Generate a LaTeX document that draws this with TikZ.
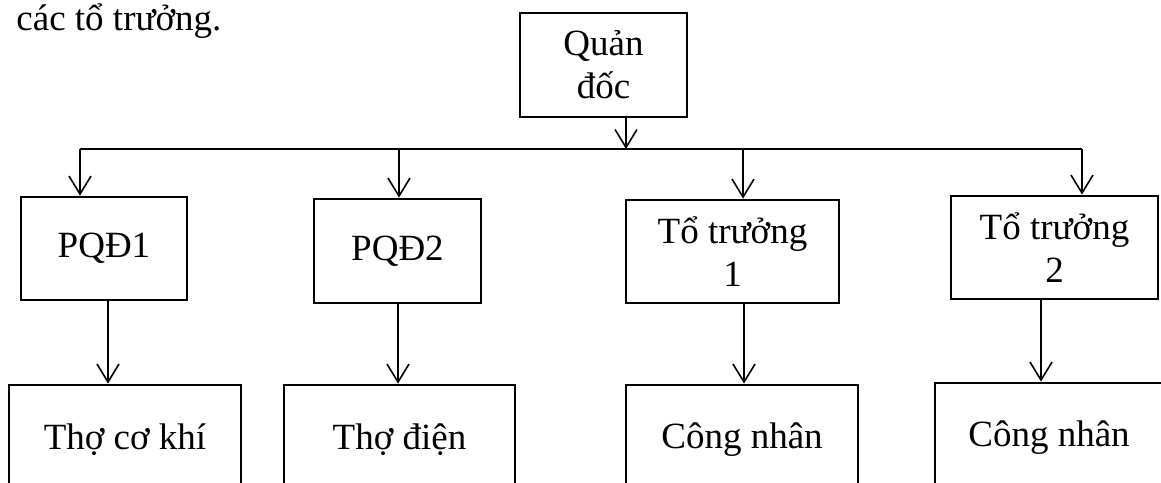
\documentclass[tikz,border=0pt]{standalone}
\usepackage{fontspec}
\setmainfont{Liberation Serif}
\usetikzlibrary{arrows.meta}

\tikzset{
    box/.style={draw, line width=1.4pt, inner sep=0pt, align=center},
    arr/.style={line width=0.8pt, -{Straight Barb[length=9pt, width=11pt, line width=0.8pt]}}
}

\begin{document}
\begin{tikzpicture}[x=0.5pt, y=-0.5pt, font=\fontsize{18.5}{21.5}\selectfont]
    \useasboundingbox (0, 0) rectangle (1161, 482);

    \node[anchor=base west, inner sep=0pt] (intro) at (16, 30) {các tổ trưởng.};

    \node[box, minimum width=83.5pt, minimum height=52pt] (quan) at (603.5, 65) {Quản\\đốc};

    \node[box, minimum width=83pt, minimum height=51.5pt] (pqd1) at (104, 248.5) {PQĐ1};
    \node[box, minimum width=83.5pt, minimum height=52pt] (pqd2) at (397.5, 251) {PQĐ2};
    \node[box, minimum width=106.5pt, minimum height=51.5pt] (tt1) at (732.5, 251.5) {Tổ trưởng\\1};
    \node[box, minimum width=103.5pt, minimum height=51.5pt] (tt2) at (1054.5, 247.5) {Tổ trưởng\\2};

    \node[box, minimum width=116pt, minimum height=55pt] (tho1) at (125, 440) {Thợ cơ khí};
    \node[box, minimum width=115.5pt, minimum height=55pt] (tho2) at (399.5, 440) {Thợ điện};
    \node[box, minimum width=116pt, minimum height=55pt] (cn1) at (742, 440) {Công nhân};
    \node[box, minimum width=114pt, minimum height=55pt] (cn2) at (1049, 438) {Công nhân};

    \coordinate (bq) at (626, 149);
    \coordinate (b1) at (80, 149);
    \coordinate (b2) at (399, 149);
    \coordinate (b3) at (743, 149);
    \coordinate (b4) at (1082, 149);

    \draw[arr] (quan.south -| bq) -- (bq);
    \draw[line width=0.8pt] (b1) -- (b4);
    \draw[arr] (b1) -- (b1 |- pqd1.north);
    \draw[arr] (b2) -- (b2 |- pqd2.north);
    \draw[arr] (b3) -- (b3 |- tt1.north);
    \draw[arr] (b4) -- (b4 |- tt2.north);

    \draw[arr] (pqd1.south -| 108, 0) -- (tho1.north -| 108, 0);
    \draw[arr] (pqd2.south -| 398, 0) -- (tho2.north -| 398, 0);
    \draw[arr] (tt1.south -| 744, 0) -- (cn1.north -| 744, 0);
    \draw[arr] (tt2.south -| 1041, 0) -- (cn2.north -| 1041, 0);
\end{tikzpicture}
\end{document}
